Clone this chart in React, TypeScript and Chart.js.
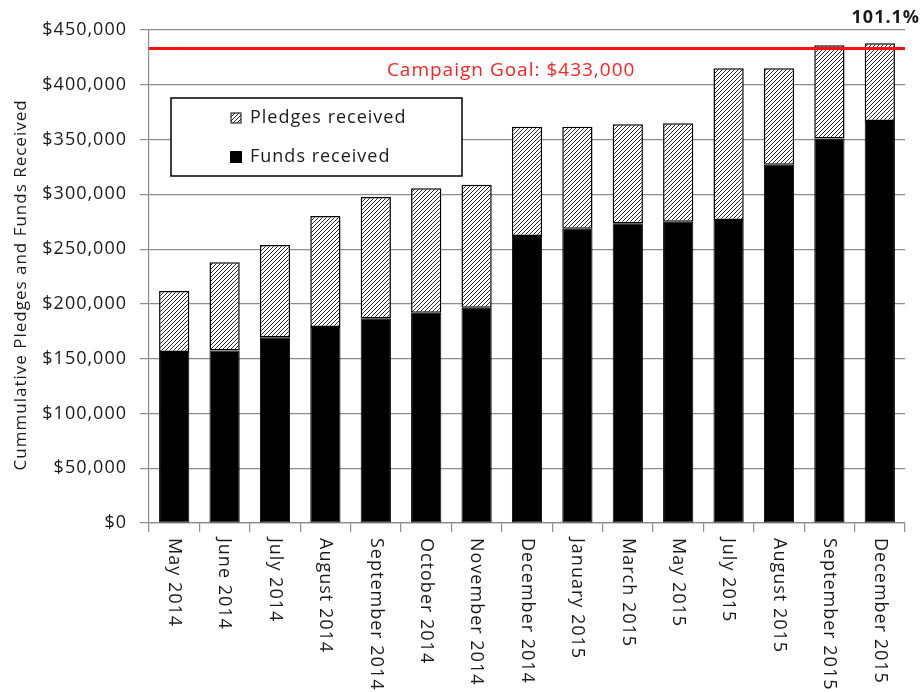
import React, { useEffect, useRef } from "react";
import { Chart, registerables } from "chart.js";

Chart.register(...registerables);

const categories = [
  "May 2014",
  "June 2014",
  "July 2014",
  "August 2014",
  "September 2014",
  "October 2014",
  "November 2014",
  "December 2014",
  "January 2015",
  "March 2015",
  "May 2015",
  "July 2015",
  "August 2015",
  "September 2015",
  "December 2015",
];

const fundsReceived = [
  156000, 157500, 169500, 179000, 187000, 192000, 196500, 262000, 268500, 273500, 275000, 276500,
  327000, 351000, 367000,
];

const pledgesReceived = [
  55800, 80500, 84300, 101200, 110600, 113500, 112300, 99700, 93200, 90400, 89800, 138500, 88000,
  85000, 70800,
];

const campaignGoal = 433000;
const goalLabel = "Campaign Goal: $433,000";
const yAxisTitle = "Cummulative Pledges and Funds Received";
const legendLabels = ["Pledges received", "Funds received"];
const yMax = 450000;
const yStep = 50000;

const FONT = "'Open Sans', 'DejaVu Sans', sans-serif";
const TEXT = "#1a1a1a";
const GRID = "#8c8c8c";

function makeHatch(): CanvasPattern {
  const c = document.createElement("canvas");
  c.width = 4;
  c.height = 4;
  const g = c.getContext("2d")!;
  g.fillStyle = "#ffffff";
  g.fillRect(0, 0, 4, 4);
  g.strokeStyle = "#2a2a2a";
  g.lineWidth = 1;
  g.beginPath();
  g.moveTo(0, 4);
  g.lineTo(4, 0);
  g.moveTo(-1, 1);
  g.lineTo(1, -1);
  g.moveTo(3, 5);
  g.lineTo(5, 3);
  g.stroke();
  return g.createPattern(c, "repeat")!;
}

export default function App() {
  const ref = useRef<HTMLCanvasElement>(null);

  useEffect(() => {
    const canvas = ref.current!;
    const hatch = makeHatch();

    const spacingPlugin = {
      id: "spacing",
      beforeUpdate(chart: any) {
        chart.ctx.letterSpacing = "1px";
      },
      beforeDraw(chart: any) {
        chart.ctx.letterSpacing = "1px";
      },
    };

    const overlayPlugin = {
      id: "overlay",
      afterDraw(chart: any) {
        const ctx = chart.ctx as CanvasRenderingContext2D;
        const area = chart.chartArea;
        const xs = chart.scales.x;
        const ys = chart.scales.y;
        ctx.save();
        (ctx as any).letterSpacing = "1px";

        // y axis title
        ctx.save();
        ctx.fillStyle = TEXT;
        ctx.font = `17px ${FONT}`;
        ctx.textAlign = "center";
        ctx.textBaseline = "middle";
        ctx.translate(21, area.top + area.height * 0.517);
        ctx.rotate(-Math.PI / 2);
        ctx.fillText(yAxisTitle, 0, 0);
        ctx.restore();

        // goal line
        const gy = ys.getPixelForValue(campaignGoal);
        ctx.strokeStyle = "#ff1010";
        ctx.lineWidth = 3;
        ctx.beginPath();
        ctx.moveTo(area.left, gy);
        ctx.lineTo(area.right, gy);
        ctx.stroke();

        // goal label
        ctx.fillStyle = "#ff2020";
        ctx.font = `19px ${FONT}`;
        ctx.textAlign = "center";
        ctx.textBaseline = "middle";
        ctx.fillText(goalLabel, area.left + area.width * 0.479, gy + 22);

        // percent label over last bar
        const last = categories.length - 1;
        const total = fundsReceived[last] + pledgesReceived[last];
        const pct = ((total / campaignGoal) * 100).toFixed(1) + "%";
        ctx.fillStyle = TEXT;
        ctx.font = `bold 18px ${FONT}`;
        ctx.fillText(pct, xs.getPixelForValue(last) + 6, area.top - 12);

        // x labels (rotated clockwise)
        ctx.font = `18px ${FONT}`;
        ctx.textAlign = "left";
        ctx.textBaseline = "middle";
        ctx.fillStyle = TEXT;
        categories.forEach((c, i) => {
          const x = xs.getPixelForValue(i);
          ctx.save();
          ctx.translate(x, area.bottom + 15);
          ctx.rotate(Math.PI / 2);
          ctx.fillText(c, 0, 0);
          ctx.restore();
        });

        // legend box
        const bx = area.left + 22;
        const by = area.top + 68;
        const bw = 291;
        const bh = 78;
        ctx.fillStyle = "#ffffff";
        ctx.fillRect(bx, by, bw, bh);
        ctx.strokeStyle = "#000000";
        ctx.lineWidth = 1.5;
        ctx.strokeRect(bx, by, bw, bh);

        // pledges swatch
        ctx.fillStyle = hatch;
        ctx.fillRect(bx + 60, by + 15, 10, 10);
        ctx.lineWidth = 1;
        ctx.strokeRect(bx + 60, by + 15, 10, 10);
        // funds swatch
        ctx.fillStyle = "#000000";
        ctx.fillRect(bx + 59, by + 53, 12, 12);

        ctx.fillStyle = TEXT;
        ctx.font = `18px ${FONT}`;
        ctx.textAlign = "left";
        ctx.textBaseline = "middle";
        ctx.fillText(legendLabels[0], bx + 79, by + 20);
        ctx.fillText(legendLabels[1], bx + 79, by + 59);

        ctx.restore();
      },
    };

    const chart = new Chart(canvas, {
      type: "bar",
      data: {
        labels: categories,
        datasets: [
          {
            label: legendLabels[1],
            data: fundsReceived,
            backgroundColor: "#000000",
            borderColor: "#000000",
            borderWidth: 1,
            borderSkipped: false,
            stack: "s",
            barPercentage: 0.6,
            categoryPercentage: 1,
          },
          {
            label: legendLabels[0],
            data: pledgesReceived,
            backgroundColor: hatch as any,
            borderColor: "#000000",
            borderWidth: 1.5,
            borderSkipped: false,
            stack: "s",
            barPercentage: 0.6,
            categoryPercentage: 1,
          },
        ],
      },
      options: {
        responsive: false,
        animation: false,
        events: [],
        layout: { padding: { top: 30, right: 19, left: 0, bottom: 0 } },
        plugins: {
          legend: { display: false },
          tooltip: { enabled: false },
          title: { display: false },
        },
        scales: {
          x: {
            stacked: true,
            offset: true,
            grid: {
              display: true,
              drawOnChartArea: false,
              drawTicks: true,
              tickLength: 9,
              offset: true,
              color: GRID,
              lineWidth: 1.2,
            },
            border: { display: true, color: GRID, width: 1.2 },
            ticks: { display: false },
            afterFit(scale: any) {
              scale.height = 169;
            },
          },
          y: {
            stacked: true,
            min: 0,
            max: yMax,
            grid: {
              color: GRID,
              lineWidth: 1.2,
              drawTicks: true,
              tickLength: 9,
            },
            border: { display: true, color: GRID, width: 1.2 },
            ticks: {
              stepSize: yStep,
              padding: 13,
              color: TEXT,
              font: { family: FONT, size: 18 },
              callback: (v: any) => "$" + Number(v).toLocaleString("en-US"),
            },
            title: { display: false },
            afterFit(scale: any) {
              scale.width = 149;
            },
          },
        },
      },
      plugins: [spacingPlugin, overlayPlugin],
    });

    return () => chart.destroy();
  }, []);

  return (
    <div style={{ position: "fixed", left: 0, top: 0, width: 924, height: 692, background: "#ffffff" }}>
      <canvas ref={ref} width={924} height={692} style={{ display: "block", width: 924, height: 692 }} />
    </div>
  );
}
